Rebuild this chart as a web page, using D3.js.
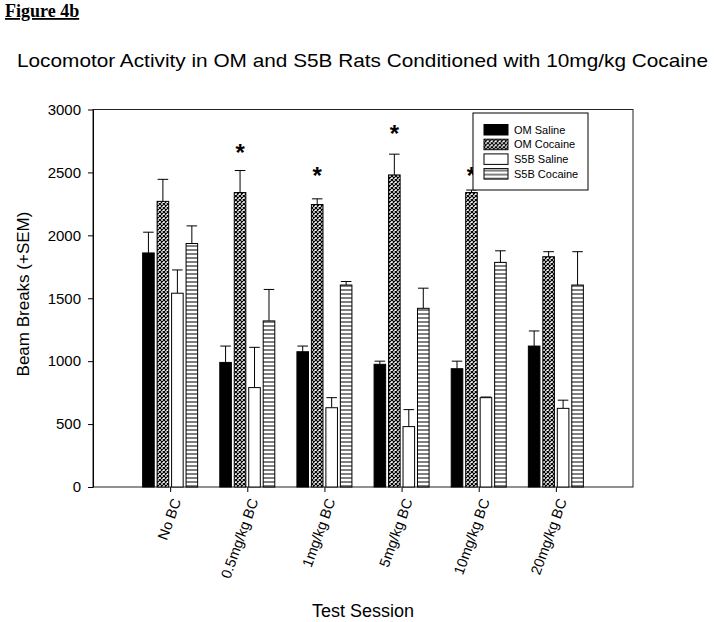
<!DOCTYPE html>
<meta charset="utf-8">
<style>
body { margin: 0; background: #fff; }
svg { font-family: "Liberation Sans", Arial, sans-serif; }
.axis text { font-size: 15px; fill: #000; }
.axis path, .axis line { stroke: #000; }
.xaxis text { font-size: 14.5px; }
</style>
<svg width="714" height="622"></svg>
<script src="https://cdn.jsdelivr.net/npm/d3@7/dist/d3.min.js"></script>
<script>

var sessions = ["No BC", "0.5mg/kg BC", "1mg/kg BC", "5mg/kg BC", "10mg/kg BC", "20mg/kg BC"];
var groups = ["OM Saline", "OM Cocaine", "S5B Saline", "S5B Cocaine"];

var omSaline      = [1860, 990, 1075, 975, 940, 1120];
var omSalineSem   = [165, 130, 45, 25, 60, 120];
var omCocaine     = [2270, 2340, 2245, 2480, 2340, 1830];
var omCocaineSem  = [175, 175, 45, 165, 20, 40];
var s5bSaline     = [1540, 790, 630, 480, 710, 625];
var s5bSalineSem  = [185, 320, 80, 135, 5, 65];
var s5bCocaine    = [1935, 1320, 1605, 1420, 1785, 1605];
var s5bCocaineSem = [140, 250, 28, 160, 92, 265];

// significance stars above OM Cocaine
var starSessions = ["0.5mg/kg BC", "1mg/kg BC", "5mg/kg BC", "10mg/kg BC"];
var starLevels   = [2690, 2500, 2840, 2500];

var yTicks = [0, 500, 1000, 1500, 2000, 2500, 3000];

var svg = d3.select("svg");
var pLeft = 93, pRight = 633, pTop = 109.5, pBottom = 487;

var x = d3.scalePoint().domain(sessions).range([pLeft, pRight]).padding(1);
var inner = d3.scaleBand().domain(groups).range([-27.5, 27.5]).paddingInner(0.2);
var y = d3.scaleLinear().domain([0, 3000]).range([pBottom, pTop]);

var defs = svg.append("defs");
var chk = defs.append("pattern").attr("id", "chk").attr("patternUnits", "userSpaceOnUse")
    .attr("width", 4).attr("height", 4);
chk.append("rect").attr("width", 4).attr("height", 4).attr("fill", "#fff");
chk.append("path").attr("d", "M0,0L4,4M4,0L0,4").attr("stroke", "#000").attr("stroke-width", 1.2);
var hst = defs.append("pattern").attr("id", "hst").attr("patternUnits", "userSpaceOnUse")
    .attr("width", 4).attr("height", 4);
hst.append("rect").attr("width", 4).attr("height", 4).attr("fill", "#fff");
hst.append("line").attr("x1", 0).attr("x2", 4).attr("y1", 2).attr("y2", 2).attr("stroke", "#000").attr("stroke-width", 1);

var fills = { "OM Saline": "#000", "OM Cocaine": "url(#chk)", "S5B Saline": "#fff", "S5B Cocaine": "url(#hst)" };
var series = [
  { name: "OM Saline", v: omSaline, e: omSalineSem },
  { name: "OM Cocaine", v: omCocaine, e: omCocaineSem },
  { name: "S5B Saline", v: s5bSaline, e: s5bSalineSem },
  { name: "S5B Cocaine", v: s5bCocaine, e: s5bCocaineSem }
];

var rows = [];
series.forEach(function(s) {
  sessions.forEach(function(c, i) { rows.push({ g: s.name, c: c, v: s.v[i], e: s.e[i] }); });
});

// frame
svg.append("rect").attr("x", pLeft).attr("y", pTop).attr("width", pRight - pLeft).attr("height", pBottom - pTop)
    .attr("fill", "none").attr("stroke", "#222").attr("stroke-width", 1);

// error bars
var eb = svg.append("g").selectAll("g").data(rows).enter().append("g")
    .attr("stroke", "#000").attr("stroke-width", 1);
eb.append("line")
    .attr("x1", function(d) { return x(d.c) + inner(d.g) + inner.bandwidth() / 2; })
    .attr("x2", function(d) { return x(d.c) + inner(d.g) + inner.bandwidth() / 2; })
    .attr("y1", function(d) { return y(d.v); })
    .attr("y2", function(d) { return y(d.v + d.e); });
eb.append("line")
    .attr("x1", function(d) { return x(d.c) + inner(d.g) + 0.5; })
    .attr("x2", function(d) { return x(d.c) + inner(d.g) + inner.bandwidth() - 0.5; })
    .attr("y1", function(d) { return y(d.v + d.e); })
    .attr("y2", function(d) { return y(d.v + d.e); });

// bars
svg.append("g").selectAll("rect").data(rows).enter().append("rect")
    .attr("x", function(d) { return x(d.c) + inner(d.g); })
    .attr("y", function(d) { return y(d.v); })
    .attr("width", inner.bandwidth())
    .attr("height", function(d) { return y(0) - y(d.v); })
    .attr("fill", function(d) { return fills[d.g]; })
    .attr("stroke", "#000").attr("stroke-width", 1);

// stars
svg.append("g").selectAll("text").data(starSessions).enter().append("text")
    .attr("x", function(d) { return x(d) + inner("OM Cocaine") + inner.bandwidth() / 2; })
    .attr("y", function(d, i) { return y(starLevels[i]) + 12; })
    .attr("text-anchor", "middle")
    .style("font-size", "24px").style("font-weight", "bold")
    .text("*");

// axes
svg.append("g").attr("class", "axis").attr("transform", "translate(" + pLeft + ",0)")
    .call(d3.axisLeft(y).tickValues(yTicks).tickFormat(d3.format("d")).tickSize(5).tickSizeOuter(0).tickPadding(7));

var xa = svg.append("g").attr("class", "axis xaxis").attr("transform", "translate(0," + pBottom + ")")
    .call(d3.axisBottom(x).tickSize(5).tickSizeOuter(0));
xa.select(".domain").remove();
xa.selectAll("text")
    .attr("text-anchor", "end")
    .attr("transform", "translate(6,12) rotate(-70)")
    .attr("x", 0).attr("y", 0).attr("dy", "0.35em");

// legend
var lg = svg.append("g").attr("transform", "translate(473,113)");
lg.append("rect").attr("width", 115).attr("height", 77).attr("fill", "#fff").attr("stroke", "#000");
var li = lg.selectAll("g").data(groups).enter().append("g")
    .attr("transform", function(d, i) { return "translate(11," + (11.5 + i * 14.7) + ")"; });
li.append("rect").attr("width", 24).attr("height", 10.5)
    .attr("fill", function(d) { return fills[d]; }).attr("stroke", "#000");
li.append("text").attr("x", 30).attr("y", 5.25).attr("dy", "0.35em")
    .style("font-size", "11px").text(function(d) { return d; });

// titles
svg.append("text").attr("x", 17).attr("y", 67)
    .attr("textLength", 691).attr("lengthAdjust", "spacingAndGlyphs")
    .style("font-size", "19px").text("Locomotor Activity in OM and S5B Rats Conditioned with 10mg/kg Cocaine");
svg.append("text").attr("x", 5).attr("y", 17)
    .style("font-family", "'Liberation Serif', 'Times New Roman', serif")
    .style("font-size", "18px").style("font-weight", "bold").style("text-decoration", "underline")
    .text("Figure 4b");
svg.append("text").attr("transform", "translate(29,294) rotate(-90)").attr("text-anchor", "middle")
    .style("font-size", "17px").text("Beam Breaks (+SEM)");
svg.append("text").attr("x", 363).attr("y", 617).attr("text-anchor", "middle")
    .style("font-size", "18px").text("Test Session");

</script>
